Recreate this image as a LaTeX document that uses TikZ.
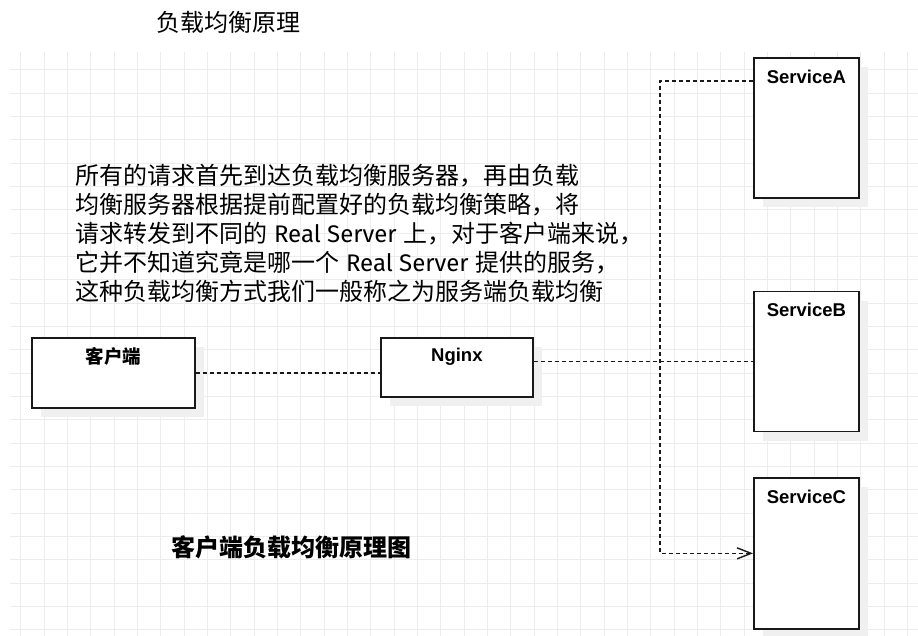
\documentclass[tikz,border=0pt]{standalone}
\usepackage{fontspec}
\setmainfont{Liberation Sans}
\newfontfamily\cjk{Noto Sans CJK SC}
\newfontfamily\lat{Fira Sans}
\usetikzlibrary{arrows.meta}
\definecolor{gridc}{RGB}{236,236,236}
\definecolor{shadowc}{RGB}{240,240,240}
\definecolor{linec}{RGB}{25,25,25}
\tikzset{
  box/.style 2 args={draw=linec,line width=1.7pt,fill=white,anchor=north west,inner sep=0pt,
    minimum width=#1,minimum height=#2},
  shadowbox/.style 2 args={fill=shadowc,draw=none,anchor=north west,inner sep=0pt,
    minimum width=#1,minimum height=#2},
  boxlabel/.style={inner sep=0pt,font=\fontsize{18.5}{22}\selectfont\bfseries},
  conn/.style={draw=linec,line width=1.6pt,dash pattern=on 4pt off 3pt},
  bodytext/.style={inner sep=0pt,anchor=base west,font=\cjk\fontsize{24}{29}\selectfont},
}
\newcommand{\rs}{{\lat\ Real Server\ }}
\begin{document}
\begin{tikzpicture}[x=1pt,y=-1pt]
\useasboundingbox[fill=white] (0,0) rectangle (918,636);
% grid
\begin{scope}
\clip (10,52) rectangle (918,636);
\foreach \i in {0,...,38} { \draw[gridc,line width=1pt] (20.67+23.333*\i,52) -- ++(0,584); }
\foreach \i in {0,...,24} { \draw[gridc,line width=1pt] (10,70+23.333*\i) -- ++(908,0); }
\end{scope}
% titles
\node[bodytext] (title) at (156,32) {负载均衡原理};
\node[bodytext,font=\cjk\bfseries\fontsize{24}{29}\selectfont] (title2) at (171,556) {客户端负载均衡原理图};
% paragraph
\node[bodytext] (t1) at (75.5,185) {所有的请求首先到达负载均衡服务器，再由负载};
\node[bodytext] (t2) at (75.5,213.9) {均衡服务器根据提前配置好的负载均衡策略，将};
\node[bodytext] (t3) at (75.5,242.8) {请求转发到不同的\rs 上，对于客户端来说，};
\node[bodytext] (t4) at (75.5,271.7) {它并不知道究竟是哪一个\rs 提供的服务，};
\node[bodytext] (t5) at (75.5,300.6) {这种负载均衡方式我们一般称之为服务端负载均衡};
% shadows
\node[shadowbox={163pt}{70pt}] (clients) at (41,347) {};
\node[shadowbox={152pt}{59pt}] (nginxs) at (390,347) {};
\node[shadowbox={105pt}{140pt}] (svcAs) at (763,67) {};
\node[shadowbox={105pt}{140pt}] (svcBs) at (763,300.7) {};
\node[shadowbox={105pt}{151pt}] (svcCs) at (763,487) {};
% boxes
\node[box={163pt}{70pt}] (client) at (31,337) {};
\node[box={152pt}{59pt}] (nginx) at (380,337) {};
\node[box={105pt}{140pt}] (svcA) at (753,57) {};
\node[box={105pt}{140pt}] (svcB) at (753,290.7) {};
\node[box={105pt}{151pt}] (svcC) at (753,477) {};
% labels
\node[boxlabel,font=\cjk\bfseries\fontsize{18.5}{22}\selectfont] (clientl) at ([yshift=-19pt]client.north) {客户端};
\node[boxlabel] (nginxl) at ([yshift=-19.5pt]nginx.north) {Nginx};
\node[boxlabel] (svcAl) at ([yshift=-19.5pt]svcA.north) {ServiceA};
\node[boxlabel] (svcBl) at ([yshift=-19.5pt]svcB.north) {ServiceB};
\node[boxlabel] (svcCl) at ([yshift=-19.5pt]svcC.north) {ServiceC};
% connectors
\coordinate (jA) at (660,81);
\draw[conn] (client.east) -- (client.east -| nginx.west);
\draw[conn] (nginx.east |- svcB.west) -- (svcB.west);
\draw[conn,-{Straight Barb[length=14pt,width=11pt,line width=1.4pt]}]
  (svcA.west |- jA) -- (jA) -- (jA |- svcC.west) -- (svcC.west);
\end{tikzpicture}
\end{document}
